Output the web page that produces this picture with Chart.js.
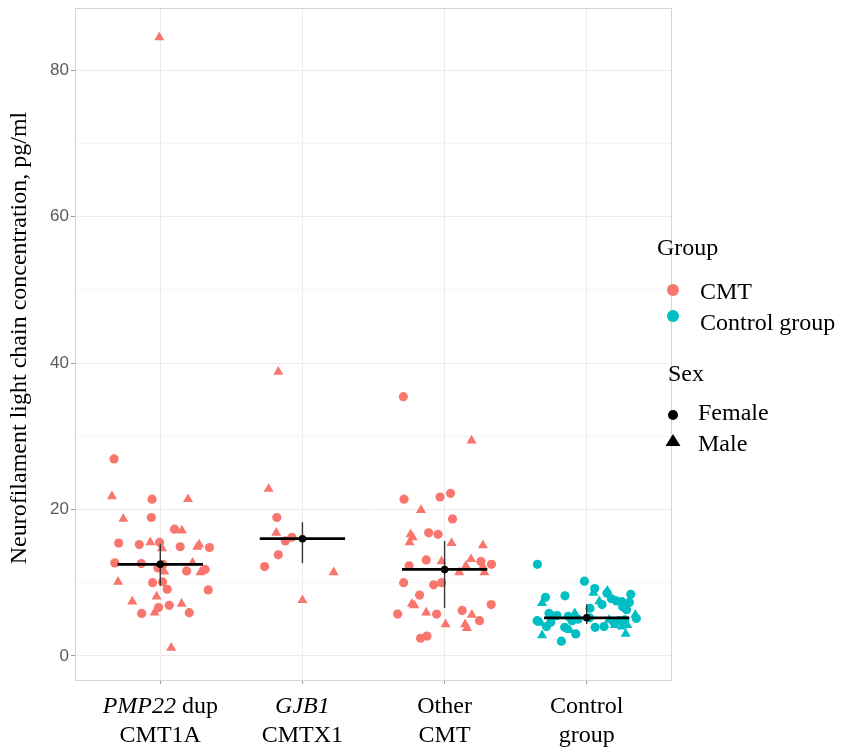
<!DOCTYPE html>
<html>
<head>
<meta charset="utf-8">
<script src="https://cdn.jsdelivr.net/npm/chart.js@4.4.0/dist/chart.umd.min.js"></script>
<style>
  html, body { margin: 0; padding: 0; background: #fff; }
  #wrap { width: 842px; height: 750px; }
</style>
</head>
<body>
<div id="wrap"><canvas id="nflChart" width="842" height="750"></canvas></div>
<script>
// --- data ---
// category labels: [line 1, line 2]; italic gene name is the first word where set
const categories = [['PMP22 dup', 'CMT1A'], ['GJB1', 'CMTX1'], ['Other', 'CMT'], ['Control', 'group']];
const italicPart = ['PMP22', 'GJB1', '', ''];

// points: [jitter offset from category centre, NfL pg/ml]
const pmp22Female = [[-0.325, 26.9], [-0.058, 21.4], [-0.063, 18.9], [0.10, 17.3], [-0.293, 15.4], [-0.148, 15.2],
  [-0.005, 15.5], [0.14, 14.9], [0.346, 14.8], [-0.32, 12.7], [-0.134, 12.6], [-0.016, 12.0], [0.019, 12.5],
  [0.185, 11.6], [0.316, 11.8], [-0.054, 10.0], [0.016, 10.1], [0.049, 9.1], [0.337, 9.0], [-0.012, 6.6],
  [0.063, 6.9], [-0.131, 5.8], [0.204, 5.9]];
const pmp22Male = [[-0.34, 21.8], [0.195, 21.4], [-0.26, 18.7], [0.152, 17.1], [-0.07, 15.5], [0.012, 14.7],
  [0.274, 15.2], [0.26, 14.9], [0.028, 11.5], [0.227, 12.7], [0.283, 11.4], [-0.297, 10.1], [-0.026, 8.1],
  [-0.197, 7.4], [0.15, 7.1], [-0.04, 5.9], [0.077, 1.1], [-0.007, 84.5]];

const gjb1Female = [[-0.18, 18.9], [-0.074, 16.2], [-0.12, 15.7], [-0.17, 13.8], [-0.266, 12.2]];
const gjb1Male = [[-0.17, 38.8], [-0.238, 22.8], [-0.184, 16.8], [0.22, 11.4], [0.0, 7.6]];

const otherFemale = [[-0.29, 35.4], [-0.285, 21.4], [-0.032, 21.7], [0.042, 22.2], [0.056, 18.7], [-0.112, 16.8],
  [-0.046, 16.6], [-0.129, 13.1], [0.256, 12.9], [0.33, 12.5], [-0.25, 12.3], [-0.288, 10.0], [-0.077, 9.7],
  [-0.021, 10.0], [-0.176, 8.3], [0.328, 7.0], [-0.33, 5.7], [-0.056, 5.7], [0.124, 6.2], [0.246, 4.8],
  [-0.124, 2.7], [-0.169, 2.4]];
const otherMale = [[0.19, 29.4], [-0.166, 19.9], [-0.239, 16.6], [-0.225, 16.2], [-0.246, 15.5], [0.049, 15.4],
  [0.27, 15.1], [-0.021, 12.9], [0.186, 13.2], [0.15, 12.3], [0.103, 11.4], [0.28, 11.4], [0.27, 12.2],
  [-0.23, 7.1], [-0.213, 6.9], [-0.129, 5.9], [0.192, 5.6], [0.007, 4.3], [0.145, 4.3], [0.157, 3.8]];

const controlFemale = [[-0.347, 12.5], [-0.016, 10.2], [0.056, 9.2], [0.143, 8.55], [0.31, 8.4], [-0.153, 8.2],
  [-0.29, 8.0], [0.174, 7.8], [0.209, 7.5], [0.248, 7.4], [0.3, 7.3], [0.108, 7.0], [0.253, 6.7], [0.281, 6.3],
  [0.023, 6.5], [0.349, 5.1], [-0.265, 5.8], [-0.209, 5.5], [-0.234, 5.4], [-0.061, 5.0], [-0.349, 4.8],
  [-0.283, 4.0], [-0.253, 4.6], [-0.155, 3.9], [-0.077, 3.0], [-0.103, 4.8], [-0.178, 2.0], [0.059, 3.9],
  [0.122, 4.0], [0.187, 4.7], [0.227, 4.8], [0.267, 4.9], [-0.13, 5.4], [0.02, 5.2]];
const controlMale = [[0.047, 8.6], [0.145, 8.9], [0.089, 7.45], [-0.314, 7.2], [0.342, 5.6], [-0.084, 5.8],
  [-0.323, 4.5], [-0.119, 3.5], [-0.314, 2.8], [0.157, 4.9], [0.197, 4.2], [0.248, 4.0], [0.286, 4.2], [0.274, 3.0]];

// mean and interval per category
const groupMeans = [12.5, 16.0, 11.8, 5.2];
const ciLow = [9.6, 12.65, 6.55, 4.35];
const ciHigh = [15.3, 18.25, 15.7, 7.05];

const yTicks = [0, 20, 40, 60, 80];
const yMinorTicks = [10, 30, 50, 70];

// --- styling ---
const CMT_COLOR = '#F8766D';
const CTRL_COLOR = '#00BFC4';
const SERIF = '"Liberation Serif", "Times New Roman", serif';
const SANS = '"Liberation Sans", Arial, sans-serif';
const BAR_HALF = 0.3;

const toXY = (pts, cat) => pts.map(([dx, y]) => ({ x: cat + dx, y: y }));

const pointSet = (pts, cat, color, shape) => ({
  type: 'scatter',
  data: toXY(pts, cat),
  backgroundColor: color,
  borderWidth: 0,
  pointStyle: shape,
  pointRadius: shape === 'triangle' ? 5.8 : 4.6,
  order: 2
});

const datasets = [
  pointSet(pmp22Female, 1, CMT_COLOR, 'circle'),
  pointSet(pmp22Male, 1, CMT_COLOR, 'triangle'),
  pointSet(gjb1Female, 2, CMT_COLOR, 'circle'),
  pointSet(gjb1Male, 2, CMT_COLOR, 'triangle'),
  pointSet(otherFemale, 3, CMT_COLOR, 'circle'),
  pointSet(otherMale, 3, CMT_COLOR, 'triangle'),
  pointSet(controlFemale, 4, CTRL_COLOR, 'circle'),
  pointSet(controlMale, 4, CTRL_COLOR, 'triangle')
];

// summary marks: vertical interval, horizontal mean bar, mean dot
groupMeans.forEach((m, i) => {
  const c = i + 1;
  datasets.push({
    type: 'line',
    data: [{ x: c, y: ciLow[i] }, { x: c, y: ciHigh[i] }],
    borderColor: '#333333',
    borderWidth: 1.4,
    pointRadius: 0,
    order: 1
  });
  datasets.push({
    type: 'line',
    data: [{ x: c - BAR_HALF, y: m }, { x: c + BAR_HALF, y: m }],
    borderColor: '#000000',
    borderWidth: 2.8,
    pointRadius: 0,
    order: 0
  });
  datasets.push({
    type: 'scatter',
    data: [{ x: c, y: m }],
    backgroundColor: '#000000',
    borderWidth: 0,
    pointRadius: 3.8,
    order: -1
  });
});

// labels, axis title, panel border and legend
const decorations = {
  id: 'decorations',
  afterDraw(chart) {
    const { ctx, chartArea: a, scales } = chart;
    ctx.save();

    // panel border
    ctx.strokeStyle = '#d4d4d4';
    ctx.lineWidth = 1;
    ctx.strokeRect(a.left + 0.5, a.top + 0.5, a.right - a.left - 1, a.bottom - a.top);

    // x category labels (two lines, serif, gene names in italic)
    ctx.fillStyle = '#000';
    ctx.textBaseline = 'alphabetic';
    categories.forEach((lines, i) => {
      const cx = scales.x.getPixelForValue(i + 1);
      const it = italicPart[i];
      const first = lines[0];
      if (it && first.startsWith(it)) {
        const rest = first.slice(it.length);
        ctx.font = 'italic 24px ' + SERIF;
        const w1 = ctx.measureText(it).width;
        ctx.font = '24px ' + SERIF;
        const w2 = ctx.measureText(rest).width;
        const x0 = cx - (w1 + w2) / 2;
        ctx.textAlign = 'left';
        ctx.font = 'italic 24px ' + SERIF;
        ctx.fillText(it, x0, a.bottom + 33);
        ctx.font = '24px ' + SERIF;
        ctx.fillText(rest, x0 + w1, a.bottom + 33);
      } else {
        ctx.textAlign = 'center';
        ctx.font = '24px ' + SERIF;
        ctx.fillText(first, cx, a.bottom + 33);
      }
      ctx.textAlign = 'center';
      ctx.font = '24px ' + SERIF;
      ctx.fillText(lines[1], cx, a.bottom + 62);
    });

    // y axis title
    ctx.save();
    ctx.translate(26, 338);
    ctx.rotate(-Math.PI / 2);
    ctx.textAlign = 'center';
    ctx.font = '24px ' + SERIF;
    ctx.fillText('Neurofilament light chain concentration, pg/ml', 0, 0);
    ctx.restore();

    // legend
    ctx.textAlign = 'left';
    ctx.font = '24px ' + SERIF;
    ctx.fillText('Group', 657, 255);
    ctx.fillText('CMT', 700, 299);
    ctx.fillText('Control group', 700, 330);
    ctx.fillText('Sex', 668, 381);
    ctx.fillText('Female', 698, 420);
    ctx.fillText('Male', 698, 451);

    ctx.fillStyle = CMT_COLOR;
    ctx.beginPath(); ctx.arc(673, 290, 6, 0, Math.PI * 2); ctx.fill();
    ctx.fillStyle = CTRL_COLOR;
    ctx.beginPath(); ctx.arc(673, 316, 6, 0, Math.PI * 2); ctx.fill();
    ctx.fillStyle = '#000';
    ctx.beginPath(); ctx.arc(673, 415, 5, 0, Math.PI * 2); ctx.fill();
    ctx.beginPath();
    ctx.moveTo(673, 434); ctx.lineTo(680.5, 446); ctx.lineTo(665.5, 446); ctx.closePath();
    ctx.fill();

    ctx.restore();
  }
};

const noScalePadding = (scale) => {
  scale.paddingTop = 0;
  scale.paddingBottom = 0;
  scale.paddingLeft = 0;
  scale.paddingRight = 0;
};

new Chart(document.getElementById('nflChart'), {
  data: { datasets },
  options: {
    responsive: false,
    devicePixelRatio: 1,
    animation: false,
    events: [],
    layout: { autoPadding: false, padding: { left: 0, right: 170, top: 8, bottom: 0 } },
    plugins: { legend: { display: false }, tooltip: { enabled: false } },
    scales: {
      x: {
        type: 'linear',
        min: 0.4,
        max: 4.6,
        afterBuildTicks: (scale) => { scale.ticks = categories.map((c, i) => ({ value: i + 1 })); },
        afterFit: (scale) => { scale.height = 70; noScalePadding(scale); },
        ticks: { display: false },
        grid: { color: '#ebebeb', lineWidth: 1, tickLength: 4, tickColor: '#9a9a9a' },
        border: { display: false }
      },
      y: {
        type: 'linear',
        min: -3.3,
        max: 88.5,
        afterBuildTicks: (scale) => {
          scale.ticks = [...yTicks, ...yMinorTicks].sort((p, q) => p - q).map(v => ({ value: v }));
        },
        afterFit: (scale) => { scale.width = 75; noScalePadding(scale); },
        ticks: {
          padding: 2,
          color: '#5a5a5a',
          font: { family: SANS, size: 17 },
          callback: (v) => (yTicks.includes(v) ? String(v) : '')
        },
        grid: {
          color: (c) => (yTicks.includes(c.tick.value) ? '#ebebeb' : '#f5f5f5'),
          tickColor: (c) => (yTicks.includes(c.tick.value) ? '#9a9a9a' : 'rgba(0,0,0,0)'),
          tickLength: 4,
          lineWidth: 1
        },
        border: { display: false }
      }
    }
  },
  plugins: [decorations]
});
</script>
</body>
</html>
